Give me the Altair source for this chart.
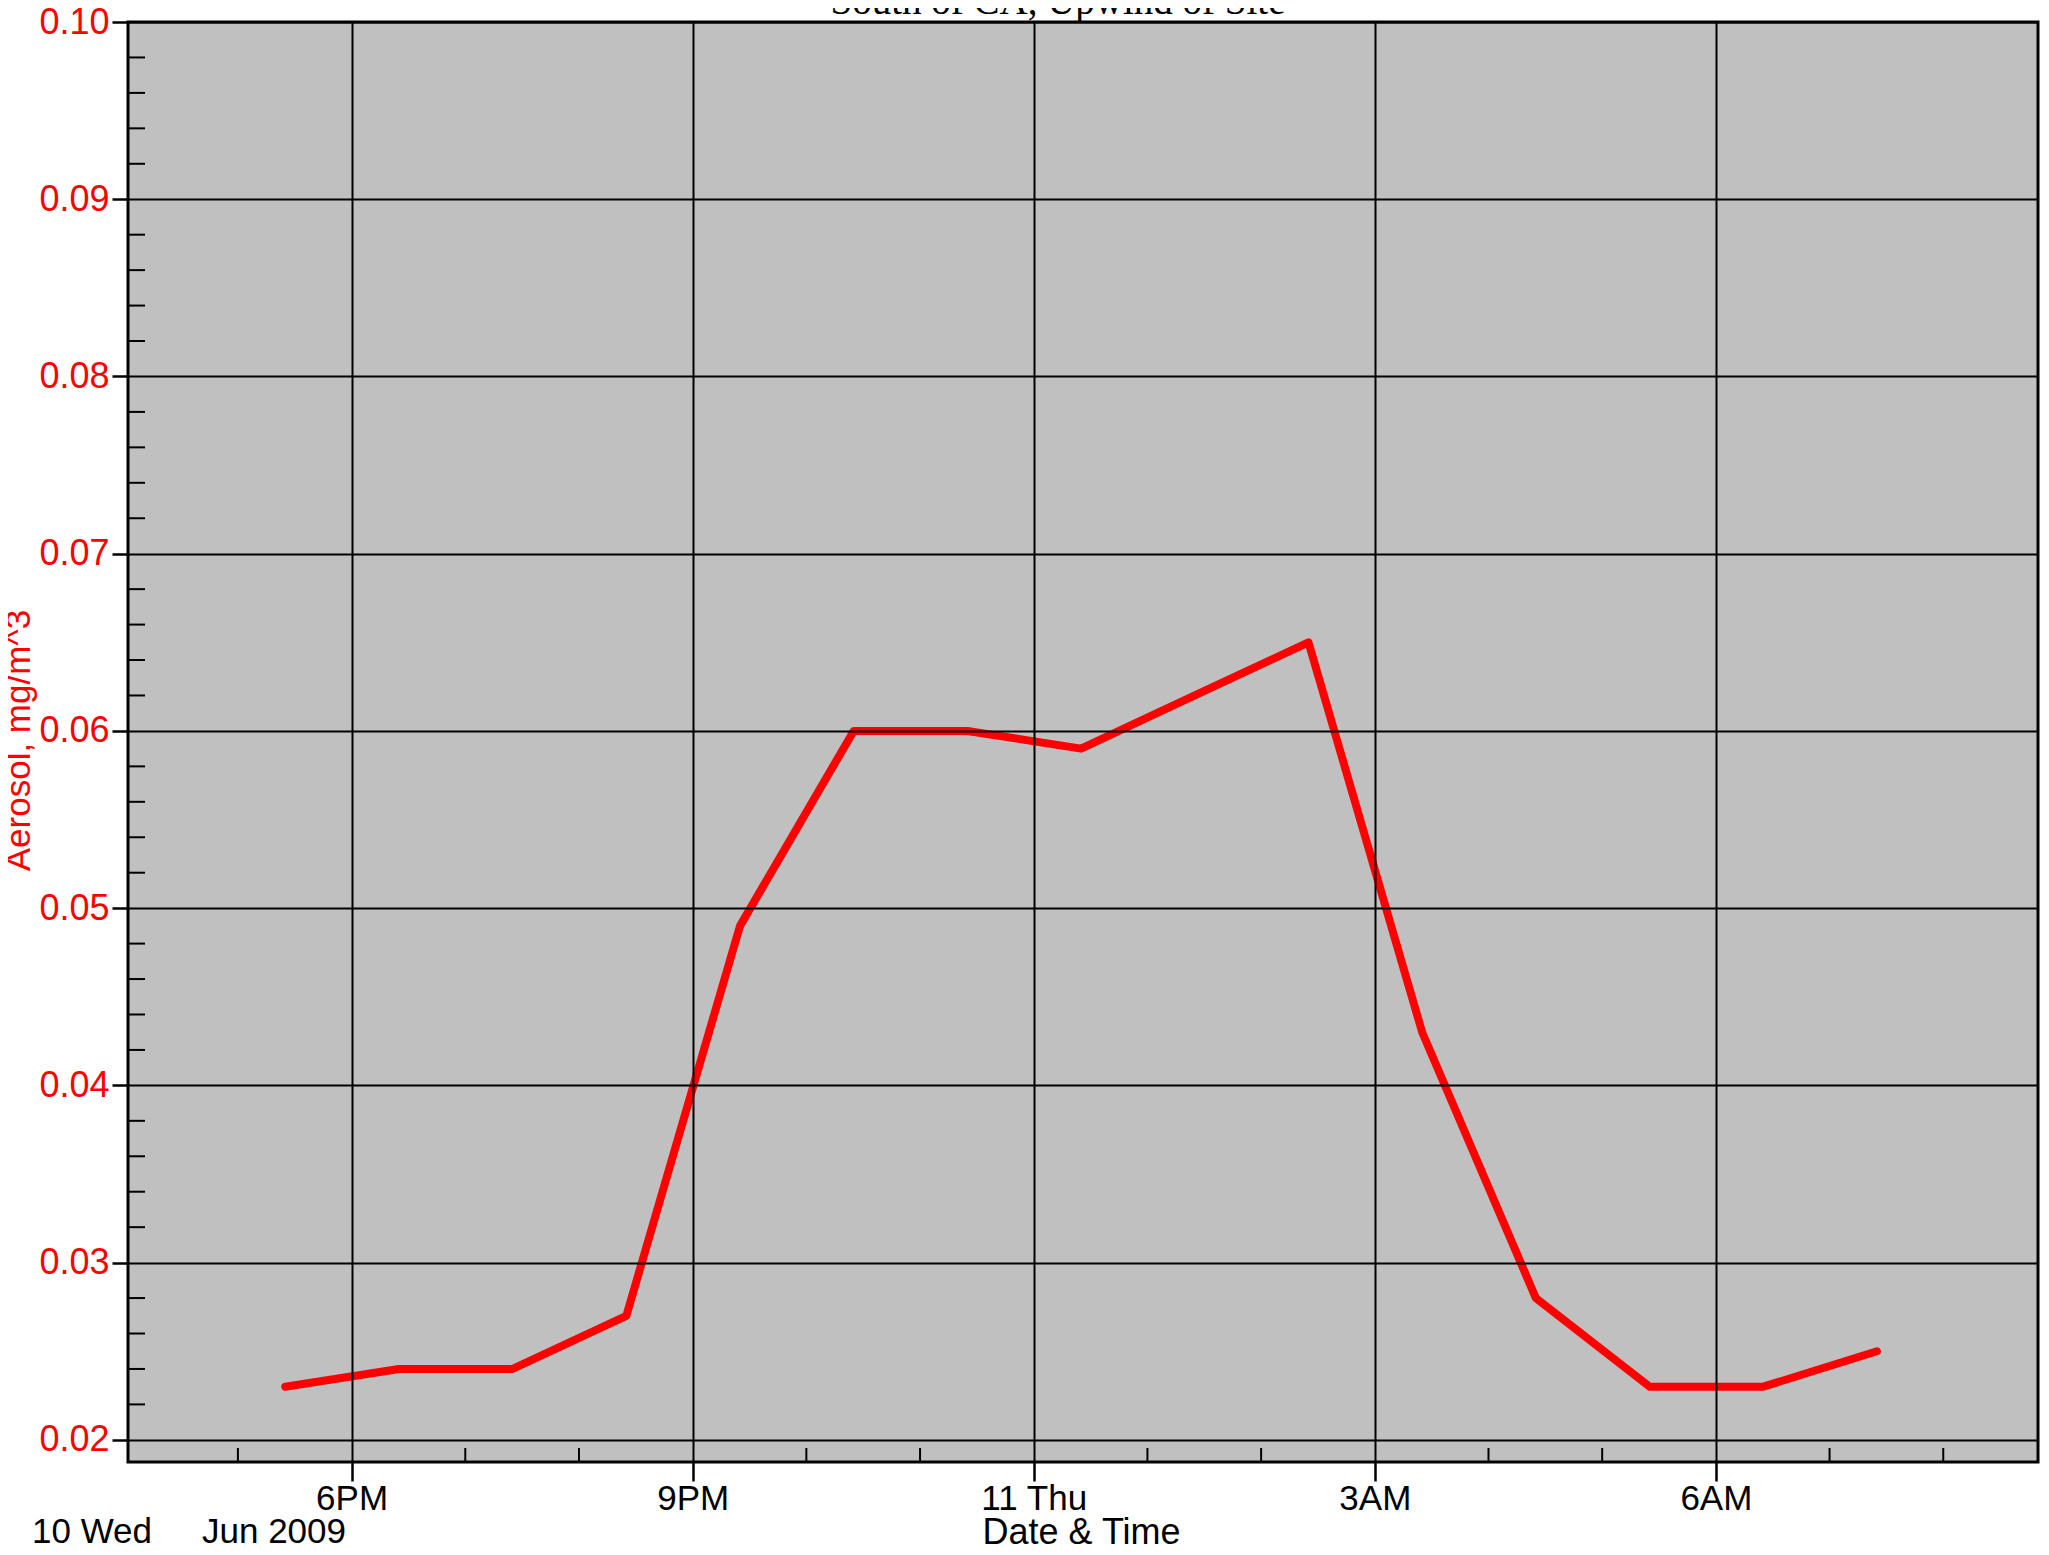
import altair as alt
import pandas as pd

# ---- data ----
times = [
    "2009-06-10T17:25:00Z", "2009-06-10T18:25:00Z", "2009-06-10T19:25:00Z",
    "2009-06-10T20:25:00Z", "2009-06-10T21:25:00Z", "2009-06-10T22:25:00Z",
    "2009-06-10T23:25:00Z", "2009-06-11T00:25:00Z", "2009-06-11T01:25:00Z",
    "2009-06-11T02:25:00Z", "2009-06-11T03:25:00Z", "2009-06-11T04:25:00Z",
    "2009-06-11T05:25:00Z", "2009-06-11T06:25:00Z", "2009-06-11T07:25:00Z",
]
aerosol = [0.023, 0.024, 0.024, 0.027, 0.049, 0.060, 0.060, 0.059, 0.062,
           0.065, 0.043, 0.028, 0.023, 0.023, 0.025]

y_major = [0.02, 0.03, 0.04, 0.05, 0.06, 0.07, 0.08, 0.09, 0.10]
y_minor = [round(0.02 + 0.002 * i, 3) for i in range(41) if i % 5 != 0]

x_major_hours = [18, 21, 0, 3, 6]
x_major_labels = ["6PM", "9PM", "11 Thu", "3AM", "6AM"]
x_minor = ["2009-06-10T17:00:00Z", "2009-06-10T19:00:00Z", "2009-06-10T20:00:00Z",
           "2009-06-10T22:00:00Z", "2009-06-10T23:00:00Z", "2009-06-11T01:00:00Z",
           "2009-06-11T02:00:00Z", "2009-06-11T04:00:00Z", "2009-06-11T05:00:00Z",
           "2009-06-11T07:00:00Z", "2009-06-11T08:00:00Z"]

title_text = "South of CA, Upwind of Site"
y_title = "Aerosol, mg/m^3"
x_title = "Date & Time"
date_left = "10 Wed"
date_month = "Jun 2009"

W, H = 1910, 1440
SANS = "Liberation Sans"
RED = "#FF0000"
FS = 35

df = pd.DataFrame({"time": times, "aerosol": aerosol})

x_dom = [alt.DateTime(year=2009, month=6, date=10, hours=16, minutes=2, utc=True),
         alt.DateTime(year=2009, month=6, date=11, hours=8, minutes=50, utc=True)]
x_scale = alt.Scale(type="utc", domain=x_dom)
y_scale = alt.Scale(domain=[0.01875, 0.10], nice=False, zero=False)

label_map = "{" + ",".join(f"'{h}':'{l}'" for h, l in zip(x_major_hours, x_major_labels)) + "}"

x_axis = alt.Axis(
    values=[alt.DateTime(year=2009, month=6, date=10 if h >= 12 else 11, hours=h, utc=True)
            for h in x_major_hours],
    labelExpr=f"{label_map}[''+utchours(datum.value)]",
    grid=True, gridColor="black", gridWidth=2, gridOpacity=1,
    tickColor="black", tickWidth=2.5, tickSize=19,
    labelFont=SANS, labelFontSize=FS, labelColor="black", labelPadding=0,
    labelBaseline="top", labelFlush=False, labelOverlap=False,
    title=x_title, titleFont=SANS, titleFontSize=36, titleFontWeight="normal",
    titleColor="black", titleBaseline="alphabetic", titleY=81, titleX=W / 2 - 2,
    domain=False, zindex=1,
)
y_axis = alt.Axis(
    values=y_major, format=".2f",
    grid=True, gridColor="black", gridWidth=2, gridOpacity=1,
    tickColor="black", tickWidth=2.5, tickSize=16,
    labelFont=SANS, labelFontSize=36, labelColor=RED, labelPadding=3,
    labelFlush=False, labelOverlap=False,
    title=y_title, titleFont=SANS, titleFontSize=35, titleFontWeight="normal",
    titleColor=RED, titleAngle=-90, titleBaseline="alphabetic", titleAlign="center",
    titleX=-99, titleY=H / 2 - 2,
    domain=False, zindex=1,
)

X = alt.X("time:T", scale=x_scale, axis=x_axis, title=x_title)
Y = alt.Y("aerosol:Q", scale=y_scale, axis=y_axis, title=y_title)

line = alt.Chart(df).mark_line(color=RED, strokeWidth=8, strokeCap="round",
                               strokeJoin="round").encode(x=X, y=Y)

ymin = alt.Chart(pd.DataFrame({"aerosol": y_minor})).mark_rule(
    color="black", strokeWidth=2).encode(y=Y, x=alt.value(0), x2=alt.value(17))
xmin = alt.Chart(pd.DataFrame({"time": x_minor})).mark_rule(
    color="black", strokeWidth=2).encode(x=X, y=alt.value(H), y2=alt.value(H - 14))

title_mark = alt.Chart(pd.DataFrame({"s": [title_text]})).mark_text(
    font="Liberation Serif", fontSize=39, color="black", align="center",
    baseline="alphabetic").encode(text="s:N", x=alt.value(930), y=alt.value(-8))

d1 = alt.Chart(pd.DataFrame({"s": [date_left]})).mark_text(
    font=SANS, fontSize=FS, color="black", align="left", baseline="alphabetic"
).encode(text="s:N", x=alt.value(-96), y=alt.value(H + 81))
d2 = alt.Chart(pd.DataFrame({"s": [date_month]})).mark_text(
    font=SANS, fontSize=FS, color="black", align="left", baseline="alphabetic"
).encode(text="s:N", x=alt.value(74), y=alt.value(H + 81))

chart = alt.layer(line, ymin, xmin, title_mark, d1, d2).properties(
    width=W, height=H,
    autosize=alt.AutoSizeParams(type="none"),
    padding={"left": 120, "top": 14, "right": 3, "bottom": 82},
    background="white",
).configure_view(fill="#C0C0C0", stroke="black", strokeWidth=3)

chart.save("out.html", embed_options={"renderer": "svg", "actions": False})
